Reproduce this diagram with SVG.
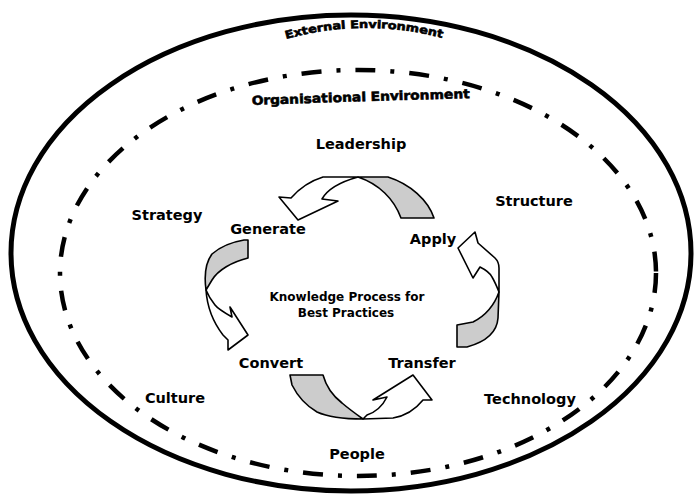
<svg xmlns="http://www.w3.org/2000/svg" width="695" height="498" viewBox="0 0 695 498">
  <defs>
    <style>
      .lbl { font-family: "DejaVu Sans", Verdana, sans-serif; font-weight: bold; font-size: 14.5px; fill: #000; text-anchor: middle; }
      .core { font-family: "DejaVu Sans", Verdana, sans-serif; font-weight: bold; font-size: 12px; fill: #000; text-anchor: middle; }
      .env { font-family: "DejaVu Sans", Verdana, sans-serif; font-weight: 900; font-size: 11px; fill: #000; stroke: #000; stroke-width: 0.6; }
      .tail { fill: #cccccc; stroke: #000; stroke-width: 1.6; stroke-linejoin: round; }
      .head { fill: #ffffff; stroke: #000; stroke-width: 1.6; stroke-linejoin: round; }
    </style>
    <path id="extArc" d="M286,39 Q366,17 446,39"/>
    <path id="orgArc" d="M252,105 Q360,101 472,98"/>
  </defs>
  <rect width="695" height="498" fill="#ffffff"/>

  <!-- environment boundaries -->
  <g id="external-environment">
    <ellipse cx="351" cy="253" rx="340" ry="238" fill="none" stroke="#000" stroke-width="5"/>
    <text class="env"><textPath href="#extArc" startOffset="0" textLength="158" lengthAdjust="spacingAndGlyphs">External Environment</textPath></text>
  </g>
  <g id="organisational-environment">
    <ellipse cx="358" cy="273" rx="298" ry="203" fill="none" stroke="#000" stroke-width="4.5" stroke-dasharray="20 15 4 15"/>
    <text class="env" style="font-size:12.5px"><textPath href="#orgArc" startOffset="0" textLength="218" lengthAdjust="spacingAndGlyphs">Organisational Environment</textPath></text>
  </g>

  <!-- organisational factors -->
  <g id="leadership"><text class="lbl" x="361" y="149">Leadership</text></g>
  <g id="structure"><text class="lbl" x="534" y="206">Structure</text></g>
  <g id="strategy"><text class="lbl" x="167" y="220">Strategy</text></g>
  <g id="culture"><text class="lbl" x="175" y="403">Culture</text></g>
  <g id="technology"><text class="lbl" x="530" y="404">Technology</text></g>
  <g id="people"><text class="lbl" x="357" y="459">People</text></g>

  <!-- knowledge process stages -->
  <g id="generate"><text class="lbl" x="268" y="234">Generate</text></g>
  <g id="apply"><text class="lbl" x="433" y="244">Apply</text></g>
  <g id="convert"><text class="lbl" x="271" y="368">Convert</text></g>
  <g id="transfer"><text class="lbl" x="422" y="368">Transfer</text></g>
  <g id="knowledge-process">
    <text class="core" x="347" y="301">Knowledge Process for</text>
    <text class="core" x="346" y="317">Best Practices</text>
  </g>

  <!-- curved cycle arrows -->
  <g id="connectors">
    <!-- Apply to Generate -->
    <path class="tail" d="M358,177 L388,177 C410,184 428,200 434,218 L401,218 C394,199 379,184 358,177 Z"/>
    <path class="head" d="M358,177 L323,177 C310,181 298,190 291,198 L279,197 L298,220 L338,201 L322,199 C327,190 340,182 358,177 Z"/>
    <!-- Generate to Convert -->
    <path class="tail" d="M244,240 L248,240 L248,258 C232,262 218,270 212,280 L206,290 C204,275 206,262 212,254 C221,246 232,242 244,240 Z"/>
    <path class="head" d="M206,290 C207,305 213,322 223,335 L228,340 L228,350 L248,335 L230,307 L232,317 C225,313 218,309 215,305 C211,300 208,295 206,290 Z"/>
    <!-- Convert to Transfer -->
    <path class="tail" d="M290,375 L323,375 C326,386 333,396 342,403 C349,409 356,414 363,419 C345,419 330,418 317,412 C305,405 297,395 292,385 Z"/>
    <path class="head" d="M363,419 L393,418 C405,416 415,410 423,400 L432,400 L413,375 L373,400 L387,397 C383,405 376,412 367,415 Z"/>
    <!-- Transfer to Apply -->
    <path class="tail" d="M457,325 L457,347 L467,347 C485,342 497,333 498,318 L499,292 C494,306 485,316 473,322 Z"/>
    <path class="head" d="M499,292 L499,268 C499,263 497,260 495,258 L478,243 L475,232 L458,248 L473,278 L480,267 C486,270 490,273 492,277 C495,282 497,287 499,292 Z"/>
  </g>
</svg>
